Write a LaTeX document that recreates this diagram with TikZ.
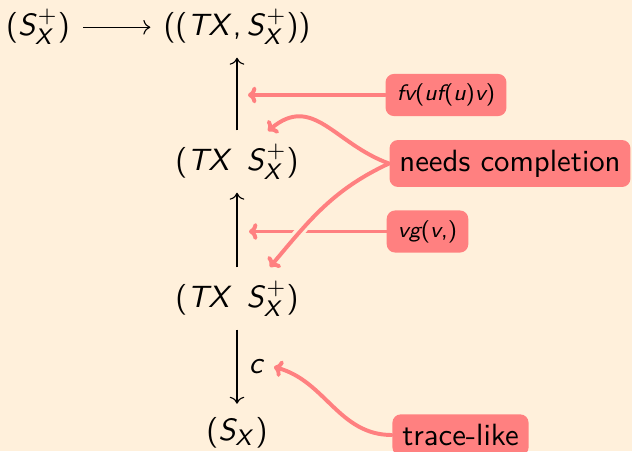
\documentclass[tikz,border=0pt,11pt]{standalone}
\usepackage{tikz}
\usetikzlibrary{arrows.meta}
\renewcommand{\familydefault}{\sfdefault}
% sans serif math letters, as on the slide
\DeclareSymbolFont{operators}{OT1}{cmss}{m}{n}
\DeclareSymbolFont{sfletters}{OT1}{cmss}{m}{sl}
\DeclareMathSymbol{S}{\mathalpha}{sfletters}{`S}
\DeclareMathSymbol{T}{\mathalpha}{sfletters}{`T}
\DeclareMathSymbol{X}{\mathalpha}{sfletters}{`X}
\DeclareMathSymbol{c}{\mathalpha}{sfletters}{`c}
\DeclareMathSymbol{,}{\mathpunct}{operators}{`,}
\newcommand{\mvar}[1]{{\slshape #1}}
\definecolor{cPage}{HTML}{FFF0DB}
\definecolor{cNote}{HTML}{FF8080}
\definecolor{cInk}{HTML}{000000}

\begin{document}
\begin{tikzpicture}[
  x=0.356pt, y=0.356pt,
  >=To,
  obj/.style={anchor=base, inner sep=4.5pt, text=cInk},
  map/.style={->, line width=0.4pt, draw=cInk},
  note/.style={rectangle, rounded corners=3pt, fill=cNote, text=cInk, inner sep=3.5pt},
  notesmall/.style={note, font=\scriptsize, inner xsep=4pt},
  hint/.style={-{To[round,length=3pt,width=6pt]}, line width=1.4pt, draw=cNote, line cap=round},
  gap/.style={preaction={draw=cPage, line width=3.6pt, -, shorten <=8pt}},
]

% ---------- Page ----------
\fill[cPage] (0,0) rectangle (632,451);
\useasboundingbox (0,0) rectangle (632,451);

% ---------- Diagram ----------
\node[obj] (sA) at (38,416) {$(S^+_X)$};
\node[obj] (tgt) at (237,416) {$((TX, S^+_X))$};
\node[obj] (midN) at (237,281) {$(TX\;\,S^+_X)$};
\node[obj] (lowN) at (237,144) {$(TX\;\,S^+_X)$};
\node[obj] (sX) at (237,11) {$(S_X)$};

\draw[map] ([yshift=2.75pt]sA.base east) -- ([yshift=2.75pt]tgt.base west);
\draw[map] (midN.north) -- (midN.north |- tgt.south);
\draw[map] (lowN.north) -- (lowN.north |- midN.south);
\draw[map] (lowN.south) -- node[right, inner sep=4pt] (cLab) {$c$} (lowN.south |- sX.north);

% ---------- Notes ----------
\node[notesmall] (fvbox) at (446,356) {\mvar{fv}(\mvar{uf}(\mvar{u})\mvar{v})};
\node[note] (needbox) at (510,287.5) {needs completion};
\node[notesmall] (vgbox) at (427.5,219.5) {\mvar{vg}(\mvar{v},)};
\node[note] (tracebox) at (460.5,16) {trace-like};

\coordinate (fvtip) at (248,356);
\coordinate (vgtip) at (249,219.5);
\coordinate (uptip) at (268,320);
\coordinate (lowtip) at (270,184);
\coordinate (ctip) at (274,84);

\draw[hint] (fvbox.west) -- (fvtip);
\draw[hint] (vgbox.west) -- (vgtip);
\draw[hint, gap] (needbox.west) to[out=205, in=50] (lowtip);
\draw[hint] (needbox.west) to[out=160, in=40, looseness=1.2] (uptip);
\draw[hint] (tracebox.west) to[out=180, in=-15] (ctip);

\end{tikzpicture}
\end{document}
